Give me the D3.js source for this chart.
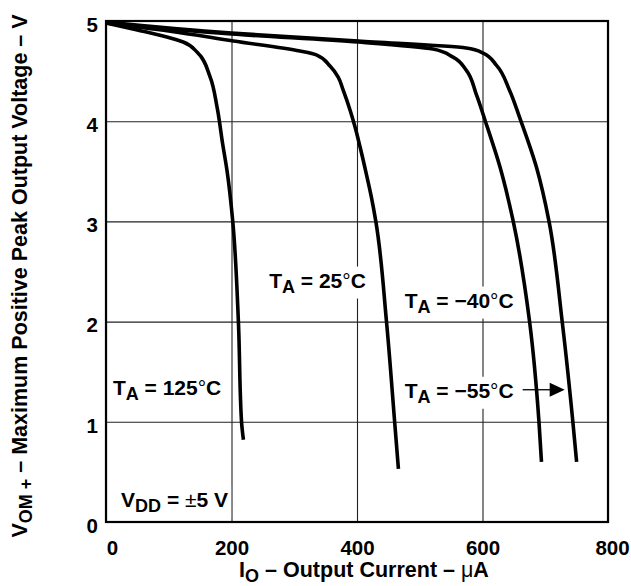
<!DOCTYPE html>
<html>
<head>
<meta charset="utf-8">
<script src="https://cdn.jsdelivr.net/npm/d3@7"></script>
<style>
  body { margin: 0; background: #fff; }
  svg { font-family: "Liberation Sans", Arial, Helvetica, sans-serif; font-weight: bold; }
</style>
</head>
<body>
<svg id="chart"></svg>
<script>
// output current (uA) vs max positive peak output voltage (V)
var CURVE_125 = [[0, 4.98], [50, 4.91], [97, 4.84], [123, 4.79], [145, 4.69], [166, 4.44], [177, 4.14],
    [186, 3.77], [193, 3.5], [202, 3.0], [211, 2.0], [216, 1.0], [219, 0.82]];
var CURVE_25 = [[0, 4.98], [100, 4.9], [203, 4.8], [309, 4.70], [336, 4.66], [357, 4.55], [370, 4.44],
    [378, 4.31], [389, 4.11], [397, 3.94], [405, 3.74], [415, 3.47], [423, 3.24], [430, 3.0],
    [447, 2.0], [460, 1.0], [466, 0.53]];
var CURVE_M40 = [[0, 4.98], [200, 4.87], [402, 4.79], [521, 4.72], [553, 4.64], [574, 4.51], [590, 4.27],
    [604, 4.01], [628, 3.54], [649, 3.0], [675, 2.0], [690, 1.0], [694, 0.6]];
var CURVE_M55 = [[0, 4.99], [200, 4.88], [402, 4.8], [574, 4.73], [601, 4.68], [622, 4.56], [643, 4.31],
    [659, 4.04], [686, 3.54], [706, 3.0], [727, 2.0], [744, 1.0], [750, 0.6]];

var X_TICKS = [0, 200, 400, 600, 800];
var Y_TICKS = [0, 1, 2, 3, 4, 5];

// annotation anchors in data units [uA, V]
var LABELS = [
    {pos: [11, 1.27], main: "T", sub: "A", rest: " = 125", sym: "°", tail: "C"},
    {pos: [260, 2.34], main: "T", sub: "A", rest: " = 25", sym: "°", tail: "C"},
    {pos: [476, 2.14], main: "T", sub: "A", rest: " = \u221240", sym: "°", tail: "C"},
    {pos: [476, 1.24], main: "T", sub: "A", rest: " = \u221255", sym: "°", tail: "C"}
];
var VDD_POS = [24, 0.15];
var ARROW = [[664, 1.32], [731, 1.32]];

var canvas_w = 631, canvas_h = 586;
var plot_l = 106, plot_t = 21, plot_r = 608, plot_b = 522;

var svg = d3.select("#chart").attr("width", canvas_w).attr("height", canvas_h);

var x = d3.scaleLinear().domain([0, 800]).range([plot_l, plot_r]);
var y = d3.scaleLinear().domain([0, 5]).range([plot_b, plot_t]);

/* grid + tick labels */
var xAxis = svg.append("g").attr("transform", "translate(0," + plot_b + ")")
    .call(d3.axisBottom(x).tickValues(X_TICKS).tickSize(-(plot_b - plot_t)).tickFormat(d3.format("d")));
var yAxis = svg.append("g").attr("transform", "translate(" + plot_l + ",0)")
    .call(d3.axisLeft(y).tickValues(Y_TICKS).tickSize(-(plot_r - plot_l)).tickFormat(d3.format("d")));

[xAxis, yAxis].forEach(function(a) {
    a.select(".domain").remove();
    a.selectAll(".tick line").attr("stroke", "#222").attr("stroke-width", 1.1);
    a.selectAll(".tick text").attr("fill", "#000").style("font-size", "20.5px")
        .style("font-family", "'Liberation Sans', Arial, sans-serif").style("font-weight", "bold");
});
xAxis.selectAll(".tick text").attr("y", 18).attr("dy", "0.71em")
    .attr("dx", function(d) { return d == 0 ? 6 : (d == 800 ? 4 : 0); });
yAxis.selectAll(".tick text").attr("x", -8).attr("dy", "0.5em");

/* annotation labels, with white backing that breaks the grid */
var labelGroup = svg.append("g");
function add_label(px, py, parts) {
    var g = labelGroup.append("g");
    var t = g.append("text").attr("x", px).attr("y", py).style("font-size", "21px");
    parts.forEach(function(p) {
        var s = t.append("tspan").text(p.text);
        if (p.sub) s.attr("dy", 5).style("font-size", "18px");
        if (p.up) s.attr("dy", -5);
        if (p.thin) s.style("font-weight", "normal");
    });
    var bb = t.node().getBBox();
    g.insert("rect", "text").attr("x", bb.x - 3).attr("y", bb.y - 2)
        .attr("width", bb.width + 6).attr("height", bb.height + 4).attr("fill", "#fff");
}

LABELS.forEach(function(d) {
    add_label(x(d.pos[0]), y(d.pos[1]), [
        {text: d.main}, {text: d.sub, sub: true}, {text: d.rest, up: true},
        {text: d.sym, thin: true}, {text: d.tail}
    ]);
});
add_label(x(VDD_POS[0]), y(VDD_POS[1]), [
    {text: "V"}, {text: "DD", sub: true}, {text: " = ", up: true}, {text: "\u00b1", thin: true}, {text: "5 V"}
]);

/* arrow for -55 label */
svg.append("line")
    .attr("x1", x(ARROW[0][0])).attr("y1", y(ARROW[0][1]))
    .attr("x2", x(ARROW[1][0]) - 14).attr("y2", y(ARROW[1][1]))
    .attr("stroke", "#000").attr("stroke-width", 1.3);
var ax = x(ARROW[1][0]), ay = y(ARROW[1][1]);
svg.append("path")
    .attr("d", "M" + ax + "," + ay + "L" + (ax - 15) + "," + (ay - 7) + "L" + (ax - 15) + "," + (ay + 7) + "Z")
    .attr("fill", "#000");

/* frame */
svg.append("rect").attr("x", plot_l).attr("y", plot_t)
    .attr("width", plot_r - plot_l).attr("height", plot_b - plot_t)
    .attr("fill", "none").attr("stroke", "#000").attr("stroke-width", 2.2);

/* curves - V falls steadily, so interpolate x as a function of y */
var line = d3.line()
    .x(function(d) { return x(d[0]); })
    .y(function(d) { return y(d[1]); })
    .curve(d3.curveMonotoneY);

[CURVE_125, CURVE_25, CURVE_M40, CURVE_M55].forEach(function(c) {
    svg.append("path").datum(c).attr("d", line)
        .attr("fill", "none").attr("stroke", "#000").attr("stroke-width", 3.6)
        .attr("stroke-linejoin", "round");
});

/* axis titles */
var xt = svg.append("text").attr("x", 364).attr("y", 577).attr("text-anchor", "middle").style("font-size", "21.5px");
xt.append("tspan").text("I");
xt.append("tspan").text("O").attr("dy", 5).style("font-size", "18px");
xt.append("tspan").text(" \u2013 Output Current \u2013 ").attr("dy", -5);
xt.append("tspan").text("\u03bc").style("font-weight", "normal");
xt.append("tspan").text("A");

var yt = svg.append("text").attr("transform", "translate(27,276) rotate(-90)")
    .attr("text-anchor", "middle").style("font-size", "21.5px");
yt.append("tspan").text("V");
yt.append("tspan").text("OM +").attr("dy", 5).style("font-size", "18px");
yt.append("tspan").text("  \u2013 Maximum Positive Peak Output Voltage \u2013 V").attr("dy", -5);
</script>
</body>
</html>
